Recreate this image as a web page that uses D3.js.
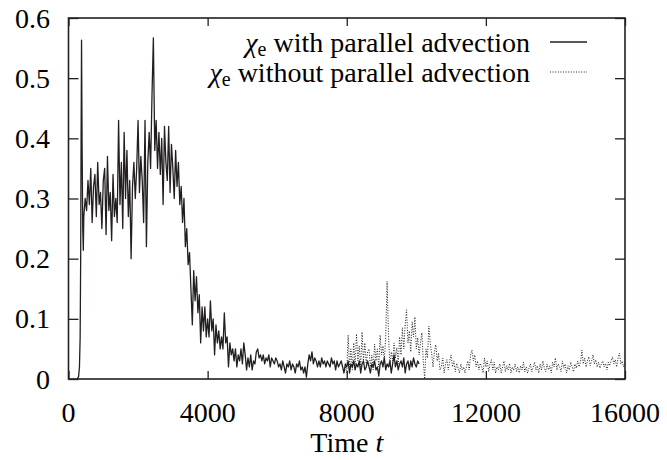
<!DOCTYPE html>
<html>
<head>
<meta charset="utf-8">
<script src="https://cdn.jsdelivr.net/npm/d3@7"></script>
<style>
  svg text { font-family: "Liberation Serif", Tinos, "Times New Roman" !important; }
</style>
</head>
<body style="margin:0">
<svg id="chart" width="667" height="460" font-family="Liberation Serif"></svg>
<script>
// Axis ticks
const xTicks = [0, 4000, 8000, 12000, 16000];
const yTicks = [0, 0.1, 0.2, 0.3, 0.4, 0.5, 0.6];
const yTickLabels = ["0", "0.1", "0.2", "0.3", "0.4", "0.5", "0.6"];

// Legend entries
const seriesNames = ["with parallel advection", "without parallel advection"];

// chi_e with parallel advection: onset transient [t, chi]
const withOnset = [
  [250, 0], [290, 0.004], [315, 0.02], [335, 0.07], [350, 0.2], [362, 0.4],
  [375, 0.563], [392, 0.38], [410, 0.25], [426, 0.214]
];
// chi_e with parallel advection: regular samples from t = 440, interval 40
const withStart = 440;
const sampleInterval = 40;
const withValues = [
  0.27, 0.30, 0.28, 0.33, 0.29, 0.35, 0.26, 0.32, 0.34, 0.27, 0.36, 0.29, 0.31, 0.25, 0.33,
  0.35, 0.24, 0.37, 0.28, 0.31, 0.23, 0.34, 0.27, 0.30, 0.26,
  0.43, 0.29, 0.36, 0.25, 0.41, 0.30, 0.38, 0.27, 0.33, 0.20,
  0.32, 0.36, 0.30, 0.35, 0.43, 0.31, 0.37, 0.33, 0.26, 0.43,
  0.22, 0.36, 0.41, 0.35, 0.47,
  0.567,
  0.38, 0.43, 0.35, 0.41, 0.34, 0.40, 0.29, 0.42, 0.36,
  0.33, 0.42, 0.31, 0.39, 0.35, 0.30, 0.38, 0.32, 0.36, 0.29,
  0.32, 0.26, 0.30, 0.22, 0.25, 0.19, 0.21, 0.15, 0.09,
  0.18, 0.13, 0.17, 0.11, 0.14, 0.06, 0.12, 0.08, 0.12, 0.07,
  0.10, 0.07, 0.13, 0.08, 0.10, 0.04, 0.09, 0.06, 0.08, 0.05,
  0.07, 0.05, 0.11, 0.06, 0.07, 0.02, 0.06, 0.04, 0.05, 0.03,
  0.05, 0.02, 0.04, 0.03, 0.05, 0.025, 0.06, 0.04, 0.015, 0.035,
  0.02, 0.04, 0.015, 0.03, 0.025, 0.045, 0.05, 0.035, 0.04, 0.03,
  0.04, 0.025, 0.035, 0.03, 0.04, 0.02, 0.035, 0.03, 0.025, 0.035,
  0.03, 0.02, 0.025, 0.015, 0.03, 0.02, 0.01, 0.025, 0.02, 0.03,
  0.015, 0.025, 0.02, 0.01, 0.025, 0.02, 0.03, 0.015, 0.02, 0.01,
  0.02, 0.003, 0.025, 0.04, 0.03, 0.045, 0.025, 0.035, 0.03, 0.02,
  0.03, 0.02, 0.035, 0.025, 0.03, 0.02, 0.03, 0.025, 0.02, 0.035,
  0.025, 0.03, 0.015, 0.03, 0.02, 0.025, 0.03, 0.02, 0.01, 0.025,
  0.02, 0.03, 0.01, 0.025, 0.02, 0.03, 0.015, 0.025, 0.02, 0.03,
  0.01, 0.025, 0.03, 0.015, 0.02, 0.03, 0.02, 0.01, 0.025, 0.02,
  0.03, 0.015, 0.02, 0.005, 0.025, 0.03, 0.02, 0.035, 0.015, 0.025,
  0.02, 0.03, 0.01, 0.025, 0.04, 0.02, 0.03, 0.015, 0.025, 0.03,
  0.02, 0.035, 0.01, 0.025, 0.03, 0.015, 0.03, 0.02, 0.035, 0.025,
  0.02, 0.03, 0.025
];

// chi_e without parallel advection: regular samples from t = 7960, interval 40
const withoutStart = 7960;
const withoutValues = [
  0.02, 0.01, 0.073, 0.02, 0.05, 0.015, 0.06, 0.02, 0.075, 0.03, 0.055,
  0.02, 0.078, 0.03, 0.06, 0.025, 0.045, 0.05, 0.02, 0.04, 0.015,
  0.058, 0.03, 0.05, 0.02, 0.073, 0.04, 0.055, 0.03, 0.07, 0.162,
  0.075, 0.02, 0.045, 0.03, 0.06, 0.035, 0.052, 0.025, 0.07, 0.04,
  0.085, 0.05, 0.09, 0.115, 0.06, 0.08, 0.045, 0.095, 0.07, 0.103,
  0.05, 0.069, 0.04, 0.06, 0.077, 0.03, 0.0, 0.05, 0.035, 0.088,
  0.06, 0.043, 0.02, 0.045, 0.057, 0.03, 0.043, 0.015, 0.02, 0.035,
  0.01, 0.025, 0.032, 0.015, 0.03, 0.04, 0.02, 0.03, 0.012, 0.026,
  0.018, 0.01, 0.025, 0.015, 0.02, 0.01, 0.02, 0.03, 0.015, 0.04,
  0.048, 0.03, 0.04, 0.02, 0.03, 0.015, 0.026, 0.02, 0.01, 0.035,
  0.02, 0.03, 0.012, 0.025, 0.032, 0.015, 0.028, 0.01, 0.02, 0.015,
  0.025, 0.01, 0.02, 0.03, 0.012, 0.022, 0.015, 0.026, 0.01, 0.02,
  0.015, 0.025, 0.012, 0.02, 0.01, 0.022, 0.015, 0.028, 0.012, 0.02,
  0.01, 0.018, 0.025, 0.012, 0.02, 0.028, 0.015, 0.022, 0.01, 0.025,
  0.015, 0.03, 0.018, 0.012, 0.025, 0.015, 0.022, 0.01, 0.028, 0.02,
  0.035, 0.015, 0.025, 0.02, 0.012, 0.03, 0.018, 0.025, 0.01, 0.022,
  0.015, 0.028, 0.02, 0.012, 0.025, 0.018, 0.03, 0.02, 0.028, 0.048,
  0.025, 0.035, 0.02, 0.03, 0.037, 0.022, 0.03, 0.04, 0.025, 0.032,
  0.02, 0.028, 0.018, 0.025, 0.03, 0.02, 0.026, 0.015, 0.028, 0.022,
  0.03, 0.037, 0.025, 0.032, 0.02, 0.035, 0.043, 0.025, 0.03, 0.02,
  0.028
];

const withSeries = withOnset.concat(
  withValues.map((v, i) => [withStart + i * sampleInterval, v])
);
const withoutSeries = withoutValues.map((v, i) => [withoutStart + i * sampleInterval, v]);

const svg = d3.select("#chart");
const plot = { left: 68.5, right: 625, top: 18, bottom: 379 };

const x = d3.scaleLinear().domain([0, 16000]).range([plot.left, plot.right]);
const y = d3.scaleLinear().domain([0, 0.6]).range([plot.bottom, plot.top]);

const ink = "#231f20";

// All labels use the Times-metric serif face
const addLabel = (parent, px, py, anchor) => parent.append("text")
  .attr("x", px).attr("y", py)
  .attr("text-anchor", anchor)
  .attr("font-family", "Liberation Serif")
  .style("font-family", `"Liberation Serif"`)
  .style("font-size", "28px");

// Data curves, clipped to the frame
svg.append("clipPath").attr("id", "plot-clip")
  .append("rect")
  .attr("x", plot.left).attr("y", plot.top)
  .attr("width", plot.right - plot.left).attr("height", plot.bottom - plot.top);

const line = d3.line().x(d => x(d[0])).y(d => y(d[1]));

const curves = svg.append("g").attr("clip-path", "url(#plot-clip)");
curves.append("path")
  .datum(withoutSeries)
  .attr("d", line)
  .attr("fill", "none")
  .attr("stroke", ink)
  .attr("stroke-width", 1)
  .attr("stroke-dasharray", "1,1.6");
curves.append("path")
  .datum(withSeries)
  .attr("d", line)
  .attr("fill", "none")
  .attr("stroke", ink)
  .attr("stroke-width", 1.3)
  .attr("stroke-linejoin", "round");

// Inward tick marks on all four sides (labels drawn separately)
const tickMarks = g => {
  g.attr("font-family", null);
  g.select(".domain").remove();
  g.selectAll(".tick text").remove();
  g.selectAll(".tick line").attr("stroke", ink).attr("stroke-width", 1.3);
};
svg.append("g").attr("transform", `translate(0,${plot.bottom})`)
  .call(d3.axisBottom(x).tickValues(xTicks).tickSize(-8)).call(tickMarks);
svg.append("g").attr("transform", `translate(0,${plot.top})`)
  .call(d3.axisTop(x).tickValues(xTicks).tickSize(-8)).call(tickMarks);
svg.append("g").attr("transform", `translate(${plot.left},0)`)
  .call(d3.axisLeft(y).tickValues(yTicks).tickSize(-10)).call(tickMarks);
svg.append("g").attr("transform", `translate(${plot.right},0)`)
  .call(d3.axisRight(y).tickValues(yTicks).tickSize(-10)).call(tickMarks);

// Tick labels placed from the same scales
xTicks.forEach(v => addLabel(svg, x(v), 422, "middle").text(d3.format("d")(v)));
yTicks.forEach((v, i) => addLabel(svg, 50, y(v) + 9.5, "end").text(yTickLabels[i]));

// Frame
svg.append("rect")
  .attr("x", plot.left).attr("y", plot.top)
  .attr("width", plot.right - plot.left).attr("height", plot.bottom - plot.top)
  .attr("fill", "none").attr("stroke", ink).attr("stroke-width", 1.6);

// X axis title
const xTitle = addLabel(svg, (plot.left + plot.right) / 2, 452, "middle");
xTitle.append("tspan").text("Time ");
xTitle.append("tspan").style("font-style", "italic").text("t");

// Legend
const legendRows = [
  { name: seriesNames[0], dash: null, width: 1.3 },
  { name: seriesNames[1], dash: "1,1.6", width: 1 }
];
legendRows.forEach((r, i) => {
  const baseY = 52 + i * 30;
  const t = addLabel(svg, 530, baseY, "end");
  t.append("tspan").style("font-style", "italic").text("χ");
  t.append("tspan").attr("dy", 4).style("font-size", "20px").text("e");
  t.append("tspan").attr("dy", -4).text(" " + r.name);
  svg.append("line")
    .attr("x1", 550).attr("x2", 587)
    .attr("y1", baseY - 10).attr("y2", baseY - 10)
    .attr("stroke", ink)
    .attr("stroke-width", r.width)
    .attr("stroke-dasharray", r.dash);
});
</script>
</body>
</html>
